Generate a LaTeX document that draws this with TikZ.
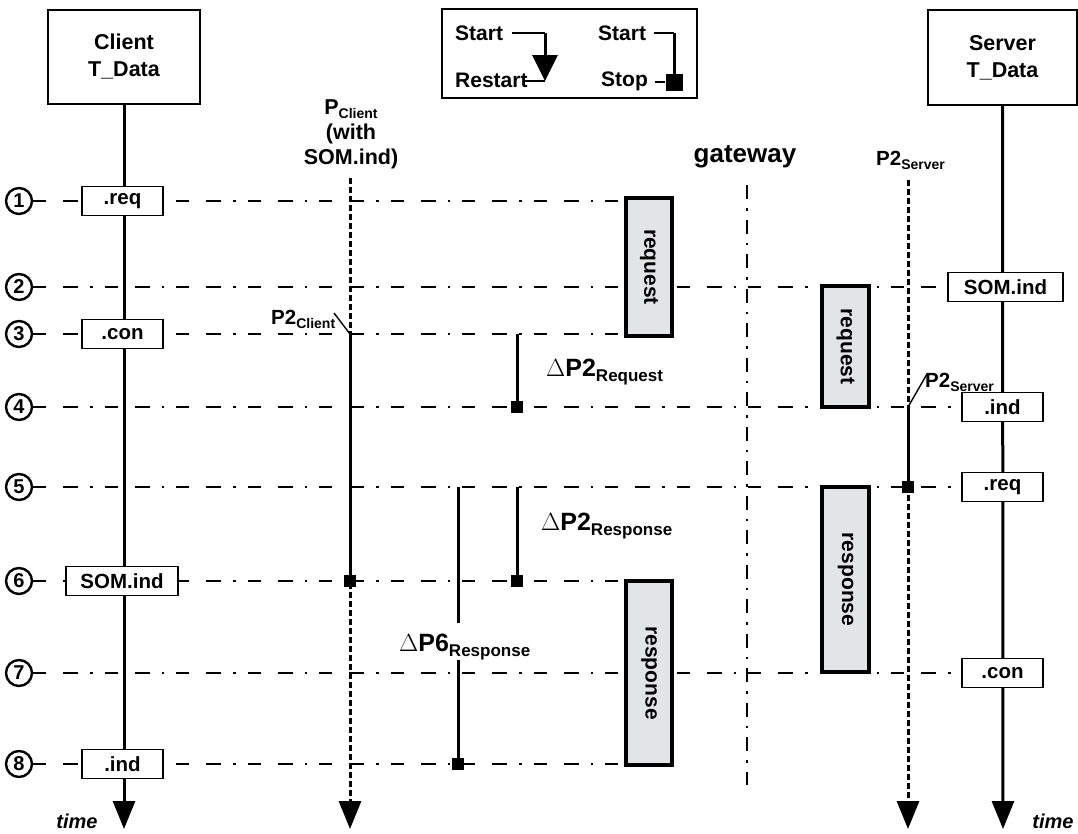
\documentclass[tikz,border=0pt]{standalone}
\usepackage{fontspec}
\setmainfont{Liberation Sans}
\usetikzlibrary{arrows.meta}
\definecolor{boxgray}{RGB}{226,229,229}
\pgfdeclarelayer{bg}
\pgfsetlayers{bg,main}
\newcommand\ssub[1]{\raisebox{-4pt}{\fontsize{14}{14}\selectfont #1}}
\newcommand\bsub[1]{\raisebox{-5pt}{\fontsize{17}{17}\selectfont #1}}
\begin{document}
\begin{tikzpicture}[x=1pt,y=-1pt,
  every node/.style={font=\bfseries},
  life/.style={line width=3pt},
  dotlife/.style={line width=3pt, dash pattern=on 6pt off 3pt},
  rowl/.style={line width=1.6pt, dash pattern=on 13pt off 17pt on 15pt off 12pt on 2.5pt off 12pt},
  gwl/.style={line width=1.6pt, dash pattern=on 14pt off 9pt on 2.5pt off 9pt},
  tip/.style={-{Triangle[length=28pt,width=22pt]}},
  hdr/.style={draw, line width=1.8pt, fill=white, align=center, inner sep=0pt, font=\bfseries\fontsize{21.5}{27}\selectfont},
  prim/.style={draw, line width=1.8pt, fill=white, minimum height=29pt, minimum width=81pt, inner sep=0pt, font=\bfseries\fontsize{20.5}{20.5}\selectfont},
  msg/.style={draw, line width=3.2pt, fill=boxgray, minimum width=46pt, inner sep=0pt, font=\bfseries\fontsize{21}{21}\selectfont},
  numc/.style={circle, draw, line width=2.4pt, minimum size=26pt, inner sep=0pt, font=\bfseries\fontsize{20}{20}\selectfont},
  sq/.style={fill=black, minimum size=12pt, inner sep=0pt},
  lbl/.style={font=\bfseries\fontsize{21}{21}\selectfont, inner sep=0pt},
  plbl/.style={font=\bfseries\fontsize{20.5}{20.5}\selectfont, inner sep=0pt, anchor=west},
  dlbl/.style={font=\bfseries\fontsize{25}{25}\selectfont, inner sep=0pt, anchor=west},
  actl/.style={line width=3pt},
  thin/.style={line width=1.4pt},
]
\useasboundingbox (0,0) rectangle (1078,833);

% header boxes
\node[hdr, minimum width=152pt, minimum height=94pt] (cbox) at (124,57) {Client\\T\_Data};
\node[hdr, minimum width=149pt, minimum height=95pt] (sbox) at (1002.5,57.5) {Server\\T\_Data};

% legend
\node[draw, line width=1.8pt, minimum width=255pt, minimum height=89pt, inner sep=0pt] (leg) at (569.5,53.5) {};
\node[lbl, anchor=west] (ls1) at (455,33) {Start};
\node[lbl, anchor=west] (lrs) at (455,80) {Restart};
\node[lbl, anchor=west] (ls2) at (598,33) {Start};
\node[lbl, anchor=west] (lsp) at (601,81) {Stop};
\coordinate (la1) at (512,33);
\coordinate (la2) at (545,33);
\coordinate (la3) at (545,81);
\coordinate (lr) at (523,81);
\draw[thin] (la1) -- (la2);
\draw[line width=3pt, -{Triangle[length=26pt,width=25pt]}] (la2) -- (la3);
\draw[thin] (lr) -- (la3);
\coordinate (lb1) at (654,33);
\coordinate (lb2) at (674,33);
\node[fill=black, minimum size=17pt, inner sep=0pt] (lsq) at (674,82) {};
\coordinate (lsl) at (655,82);
\draw[thin] (lb1) -- (lb2);
\draw[line width=3pt] (lb2) -- (lsq.center);
\draw[thin] (lsl) -- (lsq.west);

% numbered circles
\foreach \n/\y in {1/201,2/287,3/334,4/407,5/487,6/581,7/673,8/764}
  \node[numc] (c\n) at (19,\y) {\n};

% client primitives
\node[prim] (creq) at (122.5,201) {.req};
\node[prim] (ccon) at (122.5,334) {.con};
\node[prim, minimum width=112pt] (csom) at (122,581) {SOM.ind};
\node[prim] (cind) at (122.5,764) {.ind};

% server primitives
\node[prim, minimum width=115pt] (ssom) at (1005.5,287) {SOM.ind};
\node[prim] (sind) at (1002.5,407) {.ind};
\node[prim] (sreq) at (1002.5,487) {.req};
\node[prim] (scon) at (1002.5,673) {.con};

% message boxes
\node[msg, minimum height=138pt] (req1) at (649,267) {\rotatebox{-90}{request}};
\node[msg, minimum width=47pt, minimum height=121pt] (req2) at (845.5,346.5) {\rotatebox{-90}{request}};
\node[msg, minimum width=47pt, minimum height=185pt] (resp1) at (845.5,579.5) {\rotatebox{-90}{response}};
\node[msg, minimum height=184pt] (resp2) at (649,673) {\rotatebox{-90}{response}};

% labels
\node[font=\bfseries\fontsize{21.5}{25}\selectfont, align=center, inner sep=0pt] (pcl) at (351,134) {P\ssub{Client}\\(with\\SOM.ind)};
\node[font=\bfseries\fontsize{26}{26}\selectfont, inner sep=0pt] (gw) at (745,157) {gateway};
\node[plbl] (p2st) at (876,160) {P2\ssub{Server}};
\node[plbl] (p2c) at (271,319) {P2\ssub{Client}};
\node[plbl] (p2sm) at (925,382) {P2\ssub{Server}};
\node[dlbl] (dreq) at (546,372) {$\Delta$P2\bsub{Request}};
\node[dlbl] (dres) at (541,526) {$\Delta$P2\bsub{Response}};
\node[dlbl] (d6) at (399,647) {$\Delta$P6\bsub{Response}};
\node[font=\bfseries\itshape\fontsize{20}{20}\selectfont, inner sep=0pt] (tl) at (77,821) {time};
\node[font=\bfseries\itshape\fontsize{20}{20}\selectfont, inner sep=0pt] (tr) at (1053,821) {time};

% coordinates
\coordinate (pct) at (350,178);
\coordinate (pcb) at (350,829);
\coordinate (pst) at (908,180);
\coordinate (psb) at (908,829);
\coordinate (gwt) at (747,185);
\coordinate (gwb) at (747,785);
\coordinate (cend) at (124,829);
\coordinate (send) at (1003,829);
\coordinate (dq) at (517,0);
\coordinate (dsix) at (458,0);
\coordinate (d6a) at (458,623);
\coordinate (d6b) at (458,660);
\coordinate (p2cl) at (334,313);
\coordinate (p2sl) at (927,374);

\begin{pgfonlayer}{bg}
% rows
\draw[rowl] (c1.east) -- (c1 -| req1.west);
\draw[rowl] (c2.east) -- (c2 -| ssom.west);
\draw[rowl] (c3.east) -- (c3 -| req1.west);
\draw[rowl] (c4.east) -- (c4 -| sind.west);
\draw[rowl] (c5.east) -- (c5 -| sreq.west);
\draw[rowl] (c6.east) -- (c6 -| resp2.west);
\draw[rowl] (c7.east) -- (c7 -| scon.west);
\draw[rowl] (c8.east) -- (c8 -| resp2.west);
% gateway
\draw[gwl] (gwt) -- (gwb);
% lifelines
\draw[life, tip] (cbox.south) -- (cend);
\draw[life, tip] (sbox.south) -- (send);
\draw[dotlife, tip] (pct) -- (pcb);
\draw[dotlife, tip] (pst) -- (psb);
\end{pgfonlayer}

% active segments
\draw[actl] (c3 -| pct) -- (c6 -| pct);
\node[sq] (sq1) at (c6 -| pct) {};
\draw[actl] (c4 -| pst) -- (c5 -| pst);
\node[sq] (sq2) at (c5 -| pst) {};
\draw[actl] (c3 -| dq) -- (c4 -| dq);
\node[sq] (sq3) at (c4 -| dq) {};
\draw[actl] (c5 -| dq) -- (c6 -| dq);
\node[sq] (sq4) at (c6 -| dq) {};
\draw[actl] (c5 -| dsix) -- (d6a);
\draw[actl] (d6b) -- (c8 -| dsix);
\node[sq] (sq5) at (c8 -| dsix) {};
% pointer lines
\draw[thin] (p2cl) -- (c3 -| pct);
\draw[thin] (p2sl) -- (c4 -| pst);
\end{tikzpicture}
\end{document}
